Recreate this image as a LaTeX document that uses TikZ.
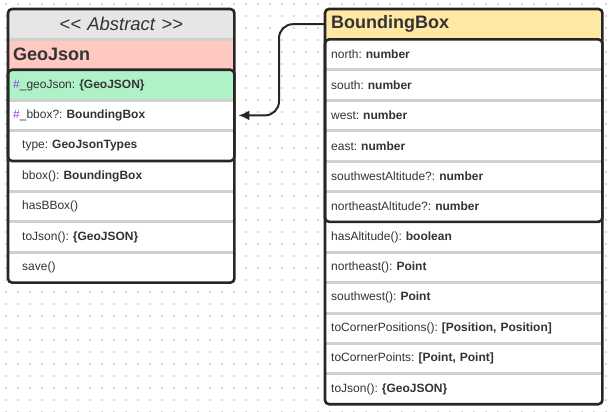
\documentclass[tikz,border=0pt]{standalone}
\usepackage{fontspec}
\setmainfont{Liberation Sans}
\usetikzlibrary{positioning}
\usetikzlibrary{arrows.meta}
\definecolor{ink}{HTML}{333333}
\definecolor{frame}{HTML}{262626}
\definecolor{rule}{HTML}{D0D0D0}
\definecolor{abstractgray}{HTML}{E6E6E6}
\definecolor{classpink}{HTML}{FFC8C1}
\definecolor{fieldgreen}{HTML}{AFF2C8}
\definecolor{classyellow}{HTML}{FFE8A3}
\definecolor{hashpurple}{HTML}{9B3CF0}
\definecolor{griddot}{HTML}{DADADA}
\newcommand{\prot}{\textcolor{hashpurple}{\#}}
\frenchspacing

\tikzset{
  member/.style={anchor=north west, fill=white, minimum height=30pt, inner ysep=0pt, inner xsep=5pt, text width=216pt, align=left, text=ink, font=\fontsize{12}{14}\selectfont},
  wide/.style={text width=265pt, inner xsep=6pt},
  title/.style={member, font=\fontsize{18}{20}\selectfont\bfseries},
  sep/.style={draw=rule, line width=3pt},
  box/.style={draw=frame, line width=2.6pt, rounded corners=4pt},
  link/.style={draw=frame, line width=2pt, rounded corners=14pt, -{Latex[length=11pt,width=10pt]}},
  dotrow/.style={draw=griddot, line width=1.1pt, dash pattern=on 1.1pt off 10.9pt},
}

\begin{document}
\begin{tikzpicture}[x=1pt, y=-1pt]
    \useasboundingbox (0,0) rectangle (614,412);
    \foreach \y in {4,16,...,412}
      \draw[dotrow] (5.45,\y) -- (614,\y);

    % GeoJson
    \node[member, fill=abstractgray, align=center, font=\fontsize{18.5}{20}\selectfont\itshape] (abstract) at (8,9) {{<}{<} Abstract {>}{>}};
    \node[title, fill=classpink, below=0pt of abstract] (geojson) {GeoJson};
    \node[member, fill=fieldgreen, below=0pt of geojson] (geofield) {\prot\_geoJson: \textbf{\{GeoJSON\}}};
    \node[member, below=0pt of geofield] (bboxfield) {\prot\_bbox?: \textbf{BoundingBox}};
    \node[member, below=0pt of bboxfield] (typefield) {\hspace*{9pt}type: \textbf{GeoJsonTypes}};
    \node[member, below=0pt of typefield] (bboxop) {\hspace*{9pt}bbox(): \textbf{BoundingBox}};
    \node[member, below=0pt of bboxop] (hasbboxop) {\hspace*{9pt}hasBBox()};
    \node[member, below=0pt of hasbboxop] (tojsonop) {\hspace*{9pt}toJson(): \textbf{\{GeoJSON\}}};
    \node[member, below=0pt of tojsonop] (saveop) {\hspace*{9pt}save()};

    % BoundingBox
    \node[title, wide, fill=classyellow] (bounding) at (325,9) {BoundingBox};
    \node[member, wide, below=0pt of bounding] (north) {north: \textbf{number}};
    \node[member, wide, below=0pt of north] (south) {south: \textbf{number}};
    \node[member, wide, below=0pt of south] (west) {west: \textbf{number}};
    \node[member, wide, below=0pt of west] (east) {east: \textbf{number}};
    \node[member, wide, below=0pt of east] (swalt) {southwestAltitude?: \textbf{number}};
    \node[member, wide, below=0pt of swalt] (nealt) {northeastAltitude?: \textbf{number}};
    \node[member, wide, below=0pt of nealt] (hasaltop) {hasAltitude(): \textbf{boolean}};
    \node[member, wide, below=0pt of hasaltop] (neop) {northeast(): \textbf{Point}};
    \node[member, wide, below=0pt of neop] (swop) {southwest(): \textbf{Point}};
    \node[member, wide, below=0pt of swop] (cornerposop) {toCornerPositions(): \textbf{[Position, Position]}};
    \node[member, wide, below=0pt of cornerposop] (cornerptop) {toCornerPoints: \textbf{[Point, Point]}};
    \node[member, wide, below=0pt of cornerptop] (bbjsonop) {toJson(): \textbf{\{GeoJSON\}}};

    \foreach \n in {abstract, geofield, bboxfield, bboxop, hasbboxop, tojsonop,
                    north, south, west, east, swalt, hasaltop, neop, swop, cornerposop, cornerptop}
      \draw[sep] (\n.south west) -- (\n.south east);

    \draw[box] (abstract.north west) rectangle (saveop.south east);
    \draw[box] (geofield.north west) rectangle (typefield.south east);
    \draw[box] (bounding.north west) rectangle (bbjsonop.south east);
    \draw[box] (north.north west) rectangle (nealt.south east);

    \draw[link] (bounding.west) -- ++(-46,0) |- ([xshift=4pt]bboxfield.east);
\end{tikzpicture}
\end{document}
